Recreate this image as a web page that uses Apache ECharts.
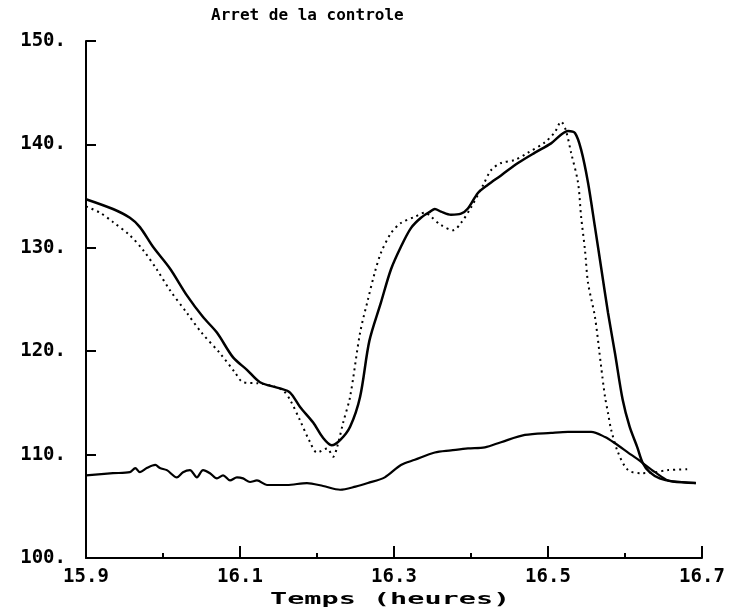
<!DOCTYPE html>
<html>
<head>
<meta charset="utf-8">
<script src="https://cdn.jsdelivr.net/npm/echarts@6/dist/echarts.min.js"></script>
<style>
    html, body { margin: 0; padding: 0; background: #fff; }
    #chart { width: 736px; height: 615px; }
</style>
</head>
<body>
<div id="chart"></div>
<script>
    // temps (heures) et valeurs
    var solidTime = [15.900, 15.935, 15.957, 15.970, 15.987, 16.009, 16.031, 16.052, 16.070, 16.091,
        16.109, 16.126, 16.152, 16.165, 16.178, 16.195, 16.208, 16.219, 16.230, 16.243,
        16.256, 16.268, 16.283, 16.296, 16.309, 16.322, 16.335, 16.347, 16.353, 16.361,
        16.374, 16.387, 16.396, 16.409, 16.422, 16.439, 16.461, 16.483, 16.504, 16.526,
        16.535, 16.543, 16.552, 16.561, 16.569, 16.578, 16.587, 16.597, 16.606, 16.616,
        16.623, 16.632, 16.645, 16.662, 16.692];
    var solidValue = [134.7, 133.75, 132.9, 132.0, 130.1, 128.0, 125.4, 123.3, 121.8, 119.4,
        118.2, 117.0, 116.4, 116.0, 114.6, 113.1, 111.6, 110.9, 111.4, 112.7,
        115.6, 121.0, 124.7, 127.9, 130.1, 131.9, 132.9, 133.5, 133.75, 133.5,
        133.2, 133.3, 133.8, 135.3, 136.1, 137.0, 138.2, 139.2, 140.1, 141.3,
        141.1, 139.5, 136.3, 132.0, 128.1, 123.7, 119.8, 115.3, 112.7, 110.7,
        109.2, 108.3, 107.7, 107.4, 107.25];

    var dottedTime = [15.900, 15.918, 15.935, 15.957, 15.974, 15.992, 16.009, 16.031, 16.050, 16.074,
        16.093, 16.104, 16.123, 16.139, 16.156, 16.165, 16.178, 16.191, 16.200, 16.213,
        16.221, 16.226, 16.234, 16.243, 16.256, 16.266, 16.275, 16.283, 16.296, 16.309,
        16.327, 16.340, 16.348, 16.361, 16.377, 16.387, 16.400, 16.416, 16.426, 16.439,
        16.457, 16.474, 16.496, 16.509, 16.517, 16.523, 16.530, 16.539, 16.543, 16.548,
        16.552, 16.561, 16.569, 16.574, 16.578, 16.582, 16.591, 16.604, 16.621, 16.639,
        16.656, 16.684];
    var dottedValue = [134.0, 133.4, 132.5, 131.2, 129.8, 127.9, 125.9, 123.7, 121.8, 119.8,
        118.0, 117.0, 116.9, 116.7, 116.2, 115.3, 113.3, 111.2, 110.2, 110.6,
        109.8, 110.7, 113.1, 115.6, 121.8, 124.95, 127.6, 129.5, 131.4, 132.4,
        133.0, 133.4, 133.0, 132.2, 131.7, 132.4, 133.9, 136.1, 137.5, 138.2,
        138.5, 139.2, 140.2, 141.2, 142.2, 141.4, 139.2, 136.3, 133.0, 129.8,
        126.6, 123.3, 118.5, 115.6, 114.0, 112.4, 110.2, 108.5, 108.2, 108.3,
        108.5, 108.6];

    var lowerTime = [15.900, 15.935, 15.957, 15.964, 15.970, 15.979, 15.990, 15.996, 16.005, 16.018,
        16.026, 16.035, 16.044, 16.052, 16.061, 16.070, 16.078, 16.087, 16.096, 16.104,
        16.113, 16.122, 16.135, 16.161, 16.187, 16.208, 16.230, 16.250, 16.266, 16.288,
        16.309, 16.327, 16.353, 16.374, 16.396, 16.418, 16.439, 16.470, 16.504, 16.526,
        16.556, 16.574, 16.587, 16.604, 16.621, 16.639, 16.656, 16.673, 16.692];
    var lowerValue = [108.0, 108.2, 108.3, 108.7, 108.3, 108.7, 109.0, 108.7, 108.5, 107.8,
        108.3, 108.5, 107.8, 108.5, 108.2, 107.7, 108.0, 107.5, 107.8, 107.7,
        107.35, 107.5, 107.06, 107.06, 107.25, 106.96, 106.6, 106.9, 107.25, 107.8,
        109.0, 109.5, 110.2, 110.4, 110.6, 110.7, 111.2, 111.9, 112.1, 112.2,
        112.2, 111.7, 111.1, 110.2, 109.3, 108.3, 107.5, 107.35, 107.25];

    var xTickLabels = ['15.9', '16.1', '16.3', '16.5', '16.7'];
    var yTicks = [100, 110, 120, 130, 140, 150];

    function pairs(t, v) {
        return t.map(function (x, i) { return [x, v[i]]; });
    }

    var monoFont = '"DejaVu Sans Mono", "Liberation Mono", monospace';

    var chart = echarts.init(document.getElementById('chart'), null, {renderer: 'canvas'});
    var option = {
        backgroundColor: '#ffffff',
        animation: false,
        title: {
            text: 'Arret de la controle',
            left: 206,
            top: 3,
            textStyle: {
                fontFamily: monoFont,
                fontSize: 16,
                fontWeight: 'bold',
                color: '#000'
            }
        },
        grid: {
            left: 86,
            right: 34,
            top: 41,
            bottom: 57,
            containLabel: false
        },
        xAxis: [
            {
                // axe des donnees, petites graduations tous les 0.1
                type: 'value',
                position: 'bottom',
                min: 15.9,
                max: 16.7,
                interval: 0.1,
                axisLine: { show: true, onZero: false, lineStyle: { color: '#000', width: 2 } },
                axisTick: { show: true, inside: true, length: 5, lineStyle: { color: '#000', width: 2 } },
                axisLabel: { show: false },
                splitLine: { show: false }
            },
            {
                // graduations principales et etiquettes
                type: 'value',
                position: 'bottom',
                min: 0,
                max: 0.8,
                interval: 0.2,
                axisLine: { show: false },
                axisTick: { show: true, inside: true, length: 12, lineStyle: { color: '#000', width: 2 } },
                axisLabel: {
                    show: true,
                    margin: 10,
                    color: '#000',
                    fontFamily: monoFont,
                    fontSize: 19,
                    fontWeight: 'bold',
                    formatter: function (v, i) { return xTickLabels[i]; }
                },
                splitLine: { show: false }
            }
        ],
        yAxis: {
            type: 'value',
            min: yTicks[0],
            max: yTicks[yTicks.length - 1],
            interval: 10,
            axisLine: { show: true, onZero: false, lineStyle: { color: '#000', width: 2 } },
            axisTick: { show: true, inside: true, length: 10, lineStyle: { color: '#000', width: 2 } },
            axisLabel: {
                margin: 20,
                color: '#000',
                fontFamily: monoFont,
                fontSize: 19,
                fontWeight: 'bold',
                formatter: function (v) { return v + '.'; }
            },
            splitLine: { show: false }
        },
        graphic: [
            {
                type: 'text',
                x: 270,
                y: 593,
                scaleX: 1.9,
                style: {
                    text: 'Temps (heures)',
                    font: 'bold 15px ' + monoFont,
                    fill: '#000',
                    textAlign: 'left',
                    textVerticalAlign: 'top'
                }
            }
        ],
        series: [
            {
                name: 'mesure',
                type: 'line',
                xAxisIndex: 0,
                data: pairs(solidTime, solidValue),
                smooth: 0.3,
                showSymbol: false,
                lineStyle: { color: '#000', width: 2.5 }
            },
            {
                name: 'consigne',
                type: 'line',
                xAxisIndex: 0,
                data: pairs(dottedTime, dottedValue),
                smooth: 0.3,
                showSymbol: false,
                lineStyle: { color: '#000', width: 2, type: [2, 4] }
            },
            {
                name: 'bas',
                type: 'line',
                xAxisIndex: 0,
                data: pairs(lowerTime, lowerValue),
                smooth: 0.3,
                showSymbol: false,
                lineStyle: { color: '#000', width: 2.2 }
            }
        ]
    };
    chart.setOption(option);
</script>
</body>
</html>
